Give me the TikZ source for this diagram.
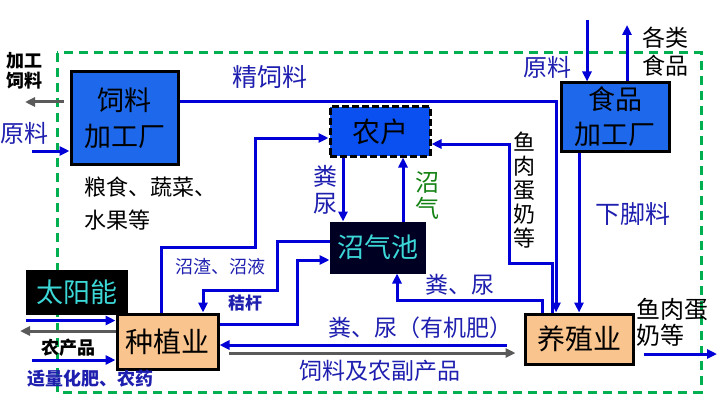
\documentclass[tikz,border=0pt]{standalone}
\usepackage{fontspec}
\setmainfont{Noto Sans CJK SC}
\usepackage{tikz}
\usetikzlibrary{arrows.meta,positioning,calc}
\definecolor{flowblue}{RGB}{0,0,215}
\definecolor{txtblue}{RGB}{30,30,175}
\definecolor{outgray}{RGB}{90,90,90}
\definecolor{sysgreen}{RGB}{0,176,80}
\definecolor{plantblue}{RGB}{30,105,235}
\definecolor{farmblue}{RGB}{10,80,240}
\definecolor{peach}{RGB}{250,196,142}
\definecolor{poolnavy}{RGB}{0,0,35}
\definecolor{gascyan}{RGB}{60,215,215}
\definecolor{gasgreen}{RGB}{20,130,20}
\newcommand\fsz[2]{\fontsize{#1}{#2}\selectfont}

\begin{document}
\begin{tikzpicture}[x=1pt,y=-1pt,
    box/.style={draw=black,line width=3pt,inner sep=0pt,align=center},
    flow/.style={draw=flowblue,line width=3pt,-{Triangle[length=10pt,width=9pt]}},
    outflow/.style={draw=outgray,line width=3pt,-{Triangle[length=10pt,width=9pt]}},
    lbl/.style={text=txtblue,font=\fsz{23}{26},inner sep=0pt}]
    \useasboundingbox (0,0) rectangle (719,401);
    % system boundary
    \draw[sysgreen,line width=3pt,dash pattern=on 9pt off 6pt] (57,53) rectangle (701,392);

    % boxes
    \node[box,fill=plantblue,minimum width=107pt,minimum height=92pt,font=\fsz{27}{36}] (slc) at (124.5,118) {饲料\\加工厂};
    \node[box,fill=farmblue,dash pattern=on 7pt off 3pt,minimum width=100pt,minimum height=49pt,font=\fsz{28}{30}] (nh) at (380,131.5) {农户};
    \node[box,fill=plantblue,minimum width=108pt,minimum height=68pt,font=\fsz{27}{35}] (spc) at (615,117) {食品\\加工厂};
    \node[box,draw=poolnavy,fill=poolnavy,text=gascyan,minimum width=93pt,minimum height=49pt,font=\fsz{27}{30}] (zqc) at (377.5,247.5) {沼气池};
    \node[box,fill=black,text=gascyan,minimum width=99pt,minimum height=42pt,font=\fsz{27}{30}] (tyn) at (76.5,292) {太阳能};
    \node[box,fill=peach,minimum width=101pt,minimum height=55pt,font=\fsz{28}{30}] (zzy) at (167.5,341.5) {种植业};
    \node[box,fill=peach,minimum width=108pt,minimum height=50pt,font=\fsz{28}{30}] (yzy) at (579,339) {养殖业};

    % free ends
    \coordinate (jgsl) at (25,102);
    \coordinate (ylA) at (32,151);
    \coordinate (ylB) at (587,20);
    \coordinate (gl) at (627,25);
    \coordinate (ncp) at (20,331);
    \coordinate (hf) at (32,360);
    \coordinate (yr) at (717,354);
    \coordinate (sun) at ([yshift=-6pt]tyn.south west);

    % flows
    \draw[outflow] ([shift={(-6pt,16pt)}]slc.west) -- (jgsl);
    \draw[flow] (ylA) -- (ylA -| slc.west);
    \draw[flow] ([yshift=16pt]slc.east) -| ([xshift=-23pt]yzy.north);
    \draw[flow] (ylB) -- (ylB |- spc.north);
    \draw[flow] ([xshift=12pt]spc.north) -- (gl);
    \draw[flow] (spc.south -| yzy.north) -- (yzy.north);
    \draw[flow] ([xshift=-27pt]yzy.north) -- ++(0,-49) -| (509,144) -- ([yshift=-12.5pt]nh.east);
    \draw[flow] ([xshift=-37pt]nh.south) -- ([xshift=-37pt]nh.south |- zqc.north);
    \draw[flow] ([xshift=25.5pt]zqc.north) -- ([xshift=25.5pt]zqc.north |- nh.south);
    \draw[flow] ([xshift=-6.5pt]zzy.north) |- (255,247) |- ([yshift=-6.5pt]nh.west);
    \draw[flow] ([yshift=6.5pt]zqc.west) -| (277,290) -| ([xshift=35.5pt]zzy.north);
    \draw[flow] ([yshift=17.5pt]zzy.east) -| (297,260) -- ([yshift=-12.5pt]zqc.west);
    \draw[flow] ([xshift=-37pt]yzy.north) -- ++(0,-12) -| ([xshift=19.5pt]zqc.south);
    \draw[flow] ([shift={(-17pt,-6pt)}]yzy.west) -- ([yshift=-3.5pt]zzy.east);
    \draw[outflow] ([shift={(9pt,-11.5pt)}]zzy.east) -- ([shift={(-8pt,-14pt)}]yzy.west);
    \draw[flow] (sun) -- (sun -| zzy.west);
    \draw[outflow] ([yshift=10.5pt]zzy.west) -- (ncp);
    \draw[flow] (hf) -- (hf -| zzy.west);
    \draw[flow] ([shift={(9pt,-15pt)}]yzy.east) -- (yr);

    % labels
    \node[font=\bfseries\fsz{18}{20},align=center,inner sep=0pt] (tjgsl) at (24,71) {加工\\饲料};
    \node[lbl,font=\fsz{24}{26}] (tylA) at (24,133) {原料};
    \node[font=\fsz{22}{33},align=left,anchor=west,inner sep=0pt] (tls) at (84,204) {粮食、蔬菜、\\水果等};
    \node[lbl,font=\fsz{25}{26}] (tjsl) at (270,77) {精饲料};
    \node[lbl,font=\fsz{24}{26}] (tylB) at (547,67) {原料};
    \node[font=\fsz{23}{28},align=center,inner sep=0pt] (tgl) at (665,52) {各类\\食品};
    \node[lbl,font=\fsz{24}{27},align=center] (tfn1) at (325,190) {粪\\尿};
    \node[text=gasgreen,font=\fsz{24}{26},align=center,inner sep=0pt] (tzq) at (427,196) {沼\\气};
    \node[font=\fsz{22}{24},align=center,inner sep=0pt] (tyr1) at (524,190) {鱼\\肉\\蛋\\奶\\等};
    \node[lbl,font=\fsz{25}{26}] (txjl) at (633,214) {下脚料};
    \node[lbl,font=\fsz{18}{20}] (tzz) at (220,267) {沼渣、沼液};
    \node[lbl,font=\bfseries\fsz{17}{20}] (tjg) at (245,303) {秸杆};
    \node[lbl] (tfn2) at (460,285) {粪、尿};
    \node[lbl] (tfn3) at (420,328) {粪、尿（有机肥）};
    \node[lbl] (tsl) at (380,371) {饲料及农副产品};
    \node[font=\bfseries\fsz{18}{20},inner sep=0pt] (tncp) at (68,348) {农产品};
    \node[lbl,font=\bfseries\fsz{18}{20}] (thf) at (90,379) {适量化肥、农药};
    \node[font=\fsz{24}{26},align=left,anchor=west,inner sep=0pt] (tyr2) at (636,322) {鱼肉蛋\\奶等};
\end{tikzpicture}
\end{document}
